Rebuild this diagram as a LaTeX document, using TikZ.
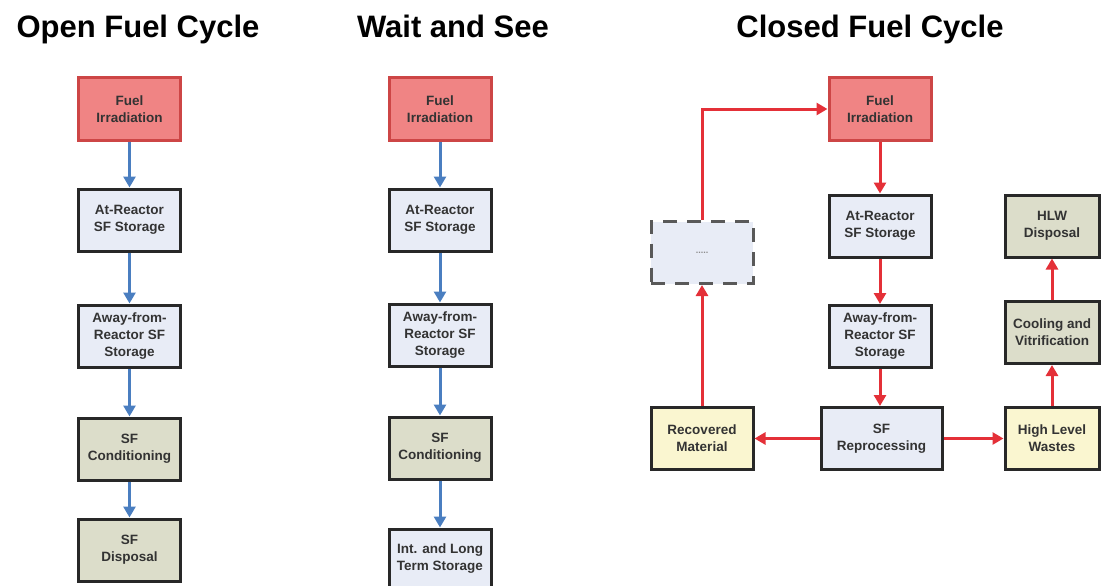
\documentclass[tikz,border=0pt]{standalone}
\usepackage{fontspec}
\setmainfont{Liberation Sans}
\usetikzlibrary{arrows.meta}
\definecolor{boxline}{RGB}{40,40,40}
\definecolor{fuelfill}{RGB}{240,132,132}
\definecolor{fuelline}{RGB}{205,70,70}
\definecolor{storefill}{RGB}{232,236,246}
\definecolor{condfill}{RGB}{220,221,202}
\definecolor{wastefill}{RGB}{250,246,208}
\definecolor{flowblue}{RGB}{74,126,192}
\definecolor{flowred}{RGB}{228,48,56}
\tikzset{
  box/.style={draw=boxline, line width=3pt, minimum width=102pt, minimum height=62pt,
    inner sep=0pt, align=center, text=black!80,
    font=\bfseries\fontsize{13.5}{17}\selectfont},
  fuelbox/.style={box, draw=fuelline, fill=fuelfill},
  storebox/.style={box, fill=storefill},
  condbox/.style={box, fill=condfill},
  wastebox/.style={box, fill=wastefill},
  pendbox/.style={box, draw=black!65, fill=storefill, dash pattern=on 14pt off 10pt},
  title/.style={font=\bfseries\fontsize{31}{36}\selectfont, anchor=base},
  blueflow/.style={draw=flowblue, line width=3pt, -{Triangle[width=12pt,length=11pt]}},
  redflow/.style={draw=flowred, line width=3pt, -{Triangle[width=12pt,length=11pt]}},
}
\begin{document}
\begin{tikzpicture}[x=1pt,y=-1pt]
\useasboundingbox (0,0) rectangle (1101,586);
\clip (0,0) rectangle (1101,586);

% titles
\node[title] (t1) at (138,38) {Open Fuel Cycle};
\node[title] (t2) at (453,38) {Wait and See};
\node[title] (t3) at (870,38) {Closed Fuel Cycle};

% open fuel cycle
\node[fuelbox]  (o1) at (129.5,109) {Fuel\\Irradiation};
\node[storebox] (o2) at (129.5,220) {At-Reactor\\SF Storage};
\node[storebox] (o3) at (129.5,336) {Away-from-\\Reactor SF\\Storage};
\node[condbox]  (o4) at (129.5,449) {SF\\Conditioning};
\node[condbox]  (o5) at (129.5,550) {SF\\Disposal};
\draw[blueflow] (o1) -- (o2);
\draw[blueflow] (o2) -- (o3);
\draw[blueflow] (o3) -- (o4);
\draw[blueflow] (o4) -- (o5);

% wait and see
\node[fuelbox]  (w1) at (440,109) {Fuel\\Irradiation};
\node[storebox] (w2) at (440,220) {At-Reactor\\SF Storage};
\node[storebox] (w3) at (440,335) {Away-from-\\Reactor SF\\Storage};
\node[condbox]  (w4) at (440,448) {SF\\Conditioning};
\node[storebox, minimum height=72pt] (w5) at (440,565) {};
\node[font=\bfseries\fontsize{13.5}{17}\selectfont, text=black!80, align=center]
  (w5t) at (440,559) {Int. and Long\\Term Storage};
\draw[blueflow] (w1) -- (w2);
\draw[blueflow] (w2) -- (w3);
\draw[blueflow] (w3) -- (w4);
\draw[blueflow] (w4) -- (w5);

% closed fuel cycle
\node[fuelbox]  (c1) at (880,109) {Fuel\\Irradiation};
\node[storebox] (c2) at (880,226) {At-Reactor\\SF Storage};
\node[storebox] (c3) at (880,336.5) {Away-from-\\Reactor SF\\Storage};
\node[storebox, minimum width=121pt] (c4) at (881.5,438.5) {SF\\Reprocessing};
\node[wastebox] (c5) at (702,438.5) {Recovered\\Material};
\node[pendbox]  (c6) at (702,252.5) {\textcolor{black!45}{\fontsize{9}{10}\selectfont .....}};
\node[wastebox, minimum width=94pt] (c7) at (1052,438.5) {High Level\\Wastes};
\node[condbox, minimum width=94pt]  (c8) at (1052,332.5) {Cooling and\\Vitrification};
\node[condbox, minimum width=94pt]  (c9) at (1052,226) {HLW\\Disposal};
\draw[redflow] (c1) -- (c2);
\draw[redflow] (c2) -- (c3);
\draw[redflow] (c3.south) -- (c3.south |- c4.north);
\draw[redflow] (c4) -- (c5);
\draw[redflow] (c4) -- (c7);
\draw[redflow] (c5) -- (c6);
\draw[redflow] (c6.north) |- (c1.west);
\draw[redflow] (c7) -- (c8);
\draw[redflow] (c8) -- (c9);
\end{tikzpicture}
\end{document}
